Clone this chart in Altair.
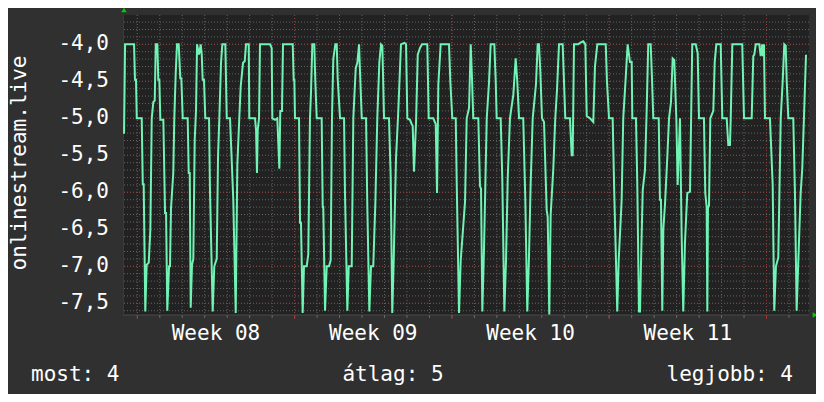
import altair as alt
import pandas as pd

# ---- data (hours since Monday 00:00 of week 08, value) ----
hours = [
    -14.2, -13.1, -3.5, -2.5, -1.4, -0.6, 4.7, 5.8, 6.8, 8.5,
    10.0, 12.2, 13.9, 15.4, 17.1, 18.6, 19.7, 21.4, 22.4, 23.5,
    24.6, 27.8, 29.6, 30.7, 32.0, 33.9, 34.9, 36.0, 38.4, 39.5,
    41.0, 42.4, 44.2, 45.9, 47.0, 48.5, 53.8, 54.9, 56.0, 57.0,
    58.4, 59.8, 61.3, 62.7, 63.8, 65.9, 67.7, 68.8, 69.8, 71.2,
    72.6, 76.6, 77.6, 80.5, 82.2, 84.8, 86.2, 87.6, 89.4, 90.8,
    94.0, 95.5, 99.0, 102.5, 105.1, 106.8, 108.9, 110.4, 112.9, 114.7,
    116.1, 119.0, 119.6, 125.7, 126.8, 127.8, 128.6, 130.0, 131.0, 141.7,
    143.5, 144.2, 147.1, 149.5, 151.7, 152.7, 154.5, 155.6, 166.0, 167.0,
    167.7, 168.4, 172.7, 173.8, 174.8, 176.6, 178.0, 180.9, 182.6, 184.4,
    185.5, 186.9, 189.0, 190.1, 191.6, 196.9, 198.0, 198.6, 200.5, 202.3,
    204.7, 206.5, 207.9, 209.3, 211.5, 213.0, 214.0, 216.5, 220.8, 221.8,
    224.3, 225.8, 229.0, 230.7, 233.3, 235.0, 236.8, 237.8, 239.7, 244.3,
    245.6, 247.8, 249.6, 252.0, 254.2, 256.3, 258.5, 260.3, 261.7, 263.5,
    268.8, 270.6, 272.3, 273.8, 276.3, 278.7, 281.6, 285.2, 287.0, 288.4,
    291.2, 293.1, 294.1, 295.5, 297.7, 299.5, 301.9, 304.1, 309.7, 311.2,
    316.1, 318.7, 320.1, 321.5, 324.0, 332.9, 334.3, 336.4, 340.1, 341.1,
    343.6, 345.4, 347.5, 350.0, 351.8, 354.3, 356.1, 357.5, 358.8, 364.2,
    366.0, 367.1, 368.5, 370.3, 373.2, 375.6, 377.4, 381.3, 382.8, 383.8,
    388.1, 389.8, 392.0, 393.8, 395.6, 398.0, 401.6, 404.1, 405.8, 407.7,
    412.2, 414.4, 416.5, 418.3, 420.1, 422.3, 425.8, 427.6, 429.0, 430.4,
    432.2, 434.4, 437.2, 438.3, 440.0, 441.5, 444.3, 446.4, 448.2, 450.4,
    454.3, 455.7, 457.1, 462.1, 463.9, 465.0, 466.4, 471.0, 472.8, 476.3,
    478.5, 480.0, 483.5, 487.0, 488.8, 491.3, 500.3, 501.6, 503.8, 507.7,
    509.4, 512.6, 514.1, 515.8, 517.3, 519.0, 521.6, 523.7, 526.2, 528.0,
    528.7, 532.6, 534.0, 535.8, 536.9, 537.9, 539.8, 542.2, 544.0, 545.7,
    548.3, 549.7, 551.1, 556.9, 558.2, 559.3, 560.7, 561.8, 563.6, 566.0,
    567.9, 570.0, 571.8, 573.5, 574.3, 575.7, 577.1, 579.6, 581.4, 583.1,
    584.9, 587.4, 590.3, 592.7, 596.4, 598.5, 599.9, 605.2, 606.6, 608.1,
    608.8, 609.5, 610.6, 612.0, 615.2, 616.7, 618.4, 623.1, 624.8, 629.5,
    631.2, 633.0, 633.8, 635.5, 646.1, 648.0, 656.2, 657.9, 659.0, 660.5,
    664.3, 665.8, 667.2, 668.3, 669.3, 670.4, 675.7, 678.6, 680.3, 682.1,
    684.6, 687.2, 689.3, 691.0, 692.5, 693.6, 695.3, 700.6, 702.4, 704.2,
    706.0, 708.5, 710.2, 712.0, 714.2,
]
values = [
    -5.21, -4.0, -4.0, -4.48, -4.48, -5.0, -5.0, -5.89, -5.89, -7.61,
    -6.98, -6.95, -6.51, -5.0, -4.78, -4.76, -4.0, -4.0, -4.48, -4.48,
    -5.02, -5.02, -6.28, -6.28, -7.6, -7.0, -7.0, -6.21, -5.74, -5.0,
    -4.39, -4.0, -4.0, -4.46, -4.46, -5.0, -5.0, -5.74, -5.74, -7.56,
    -6.98, -6.9, -5.29, -4.89, -4.0, -4.14, -4.0, -4.14, -4.48, -4.48,
    -5.0, -5.0, -5.97, -7.61, -7.0, -6.9, -5.52, -5.0, -4.25, -4.0,
    -4.0, -5.0, -5.0, -6.10, -7.63, -5.63, -5.0, -4.57, -4.25, -4.23,
    -4.0, -4.0, -5.0, -5.0, -5.16, -5.74, -5.16, -5.0, -4.0, -4.0,
    -4.05, -5.0, -5.02, -5.0, -5.68, -4.9, -4.9, -4.0, -4.0, -4.48,
    -4.48, -5.0, -5.0, -6.41, -6.41, -7.63, -7.0, -7.0, -6.84, -5.0,
    -4.65, -4.0, -4.0, -4.5, -5.0, -5.0, -6.2, -6.2, -7.6, -7.0,
    -7.0, -6.92, -5.0, -4.2, -4.0, -4.0, -4.46, -5.0, -5.0, -6.01,
    -7.6, -7.0, -7.0, -5.0, -4.32, -4.25, -4.0, -4.35, -5.0, -5.0,
    -6.15, -7.61, -7.0, -7.0, -6.16, -5.0, -4.24, -4.0, -4.02, -5.0,
    -5.0, -5.78, -7.63, -6.93, -5.54, -4.91, -4.0, -3.98, -4.0, -5.0,
    -5.02, -5.08, -5.1, -5.72, -5.05, -4.14, -4.05, -4.0, -4.0, -5.0,
    -5.0, -5.08, -6.01, -4.54, -4.0, -4.0, -4.5, -5.0, -5.0, -5.85,
    -7.63, -6.92, -6.56, -6.13, -5.0, -4.86, -4.0, -4.48, -5.0, -5.0,
    -5.92, -5.95, -7.61, -6.75, -5.0, -4.52, -4.0, -4.0, -4.5, -5.0,
    -5.0, -5.81, -7.61, -6.92, -5.81, -5.0, -4.68, -4.19, -4.5, -5.0,
    -5.0, -6.1, -7.61, -6.88, -5.89, -5.0, -4.54, -4.0, -4.0, -4.35,
    -5.0, -5.05, -6.24, -6.33, -7.65, -6.3, -5.68, -5.0, -4.63, -4.0,
    -4.0, -4.5, -5.0, -5.0, -5.5, -5.5, -4.0, -4.0, -3.98, -3.96,
    -4.0, -4.97, -5.0, -5.05, -4.3, -4.0, -4.0, -4.5, -5.0, -5.0,
    -6.01, -7.61, -6.92, -6.5, -6.1, -5.0, -4.46, -4.0, -4.24, -4.24,
    -5.0, -5.0, -5.89, -7.61, -7.61, -7.0, -5.97, -5.7, -4.9, -4.0,
    -4.0, -4.46, -5.0, -5.0, -6.1, -6.1, -7.6, -6.5, -6.16, -5.54,
    -5.0, -4.78, -4.19, -4.21, -4.5, -5.0, -5.9, -5.0, -6.6, -7.61,
    -6.69, -6.01, -5.99, -4.0, -4.0, -4.12, -5.0, -5.0, -6.01, -6.2,
    -7.61, -6.2, -6.18, -5.0, -4.9, -4.24, -4.0, -4.0, -5.0, -5.0,
    -5.36, -5.36, -5.0, -4.0, -4.0, -5.0, -5.0, -4.16, -4.14, -4.0,
    -4.0, -4.16, -4.0, -4.16, -4.0, -5.0, -5.0, -5.89, -7.6, -7.0,
    -6.88, -5.0, -4.5, -4.0, -4.02, -4.5, -5.0, -5.0, -6.01, -7.6,
    -6.92, -6.01, -5.68, -5.0, -4.14,
]
assert len(hours) == len(values)

week_label_pos = [84, 252, 420, 588]
week_labels = ["Week 08", "Week 09", "Week 10", "Week 11"]
week_lines = [0, 168, 336, 504, 672]
day_lines = [24 * i for i in range(30)]
y_major = [-4.0, -4.5, -5.0, -5.5, -6.0, -6.5, -7.0, -7.5]
y_labels = ["-4,0", "-4,5", "-5,0", "-5,5", "-6,0", "-6,5", "-7,0", "-7,5"]
y_minor = [round(-3.7 - 0.1 * i, 1) for i in range(40)]
y_title = "onlinestream.live"
legend_texts = ["most: 4", "átlag: 5", "legjobb: 4"]

X_DOMAIN = [-15.3, 717.4]
Y_DOMAIN = [-7.658, -3.604]
FONT = "DejaVu Sans Mono"
FS = 21
LINE_COLOR = "#70F3B4"
MINOR_GRID = "#626262"
MAJOR_GRID = "#8e3c3c"
TEXT = "#ffffff"

xs = alt.Scale(domain=X_DOMAIN, nice=False, zero=False)
ys = alt.Scale(domain=Y_DOMAIN, nice=False, zero=False)

df = pd.DataFrame({"h": hours, "v": values, "i": range(len(hours))})

def hrule(vals, color):
    return alt.Chart(pd.DataFrame({"y": vals})).mark_rule(
        color=color, strokeDash=[1, 2], strokeWidth=1
    ).encode(y=alt.Y("y:Q", scale=ys, axis=None))

def vrule(vals, color):
    return alt.Chart(pd.DataFrame({"x": vals})).mark_rule(
        color=color, strokeDash=[1, 2], strokeWidth=1
    ).encode(x=alt.X("x:Q", scale=xs, axis=None))

h_minor = hrule(y_minor, MINOR_GRID)
v_minor = vrule(day_lines, MINOR_GRID)
h_major = hrule(y_major, MAJOR_GRID)
v_major = vrule(week_lines, MAJOR_GRID)

day_ticks = alt.Chart(pd.DataFrame({"x": day_lines})).mark_rule(
    color="#6a6a6a", strokeWidth=1, clip=False
).encode(x=alt.X("x:Q", scale=xs, axis=None), y=alt.value(300), y2=alt.value(303))
week_ticks = alt.Chart(pd.DataFrame({"x": week_lines})).mark_rule(
    color="#a03a3a", strokeWidth=1, clip=False
).encode(x=alt.X("x:Q", scale=xs, axis=None), y=alt.value(300), y2=alt.value(304))

bottom_line = alt.Chart(pd.DataFrame({"a": [1]})).mark_rule(
    color="#4a4a4a", strokeWidth=1
).encode(x=alt.value(0), x2=alt.value(686), y=alt.value(300))
left_line = alt.Chart(pd.DataFrame({"a": [1]})).mark_rule(
    color="#3a3a3a", strokeWidth=1
).encode(x=alt.value(0.5), y=alt.value(0), y2=alt.value(300))

line = alt.Chart(df).mark_line(color=LINE_COLOR, strokeWidth=2, clip=True).encode(
    x=alt.X("h:Q", scale=xs, axis=None),
    y=alt.Y("v:Q", scale=ys, axis=None),
    order=alt.Order("i:Q"),
)

x_labels = alt.Chart(pd.DataFrame({"p": week_label_pos, "t": week_labels})).mark_text(
    font=FONT, fontSize=FS, color=TEXT, align="center", baseline="top", clip=False
).encode(x=alt.X("p:Q", scale=xs, axis=None), y=alt.value(308), text="t:N")

y_lab = alt.Chart(pd.DataFrame({"v": y_major, "t": y_labels})).mark_text(
    font=FONT, fontSize=FS, color=TEXT, align="right", baseline="middle", clip=False
).encode(y=alt.Y("v:Q", scale=ys, axis=None), x=alt.value(-14), text="t:N")

title = alt.Chart(pd.DataFrame({"t": [y_title]})).mark_text(
    font=FONT, fontSize=FS, color=TEXT, align="center", baseline="middle", angle=270
).encode(x=alt.value(-103), y=alt.value(148), text="t:N")

legend_df = pd.DataFrame({"t": legend_texts})
txt_most = alt.Chart(legend_df.iloc[[0]]).mark_text(
    font=FONT, fontSize=FS, color=TEXT, align="left", baseline="alphabetic"
).encode(text="t:N", x=alt.value(-92), y=alt.value(366))
txt_avg = alt.Chart(legend_df.iloc[[1]]).mark_text(
    font=FONT, fontSize=FS, color=TEXT, align="center", baseline="alphabetic"
).encode(text="t:N", x=alt.value(270), y=alt.value(366))
txt_best = alt.Chart(legend_df.iloc[[2]]).mark_text(
    font=FONT, fontSize=FS, color=TEXT, align="right", baseline="alphabetic"
).encode(text="t:N", x=alt.value(670), y=alt.value(366))

arrow_up = alt.Chart(pd.DataFrame({"a": [1]})).mark_point(
    shape="triangle-up", filled=True, color="#00cc00", size=30, opacity=1
).encode(x=alt.value(1), y=alt.value(-5))
arrow_right = alt.Chart(pd.DataFrame({"a": [1]})).mark_point(
    shape="triangle-right", filled=True, color="#00cc00", size=30, opacity=1
).encode(x=alt.value(692), y=alt.value(300))

chart = alt.layer(
    h_minor, v_minor, h_major, v_major, bottom_line, left_line, day_ticks, week_ticks,
    line, x_labels, y_lab, title, txt_most, txt_avg, txt_best, arrow_up, arrow_right,
).properties(
    width=686, height=300,
    padding={"left": 115, "top": 7, "right": 7, "bottom": 79},
    autosize=alt.AutoSizeParams(type="none"),
    background="#303030",
).configure_view(fill="#222222", stroke=None)

chart.save("out.html", embed_options={"renderer": "svg", "actions": False})
